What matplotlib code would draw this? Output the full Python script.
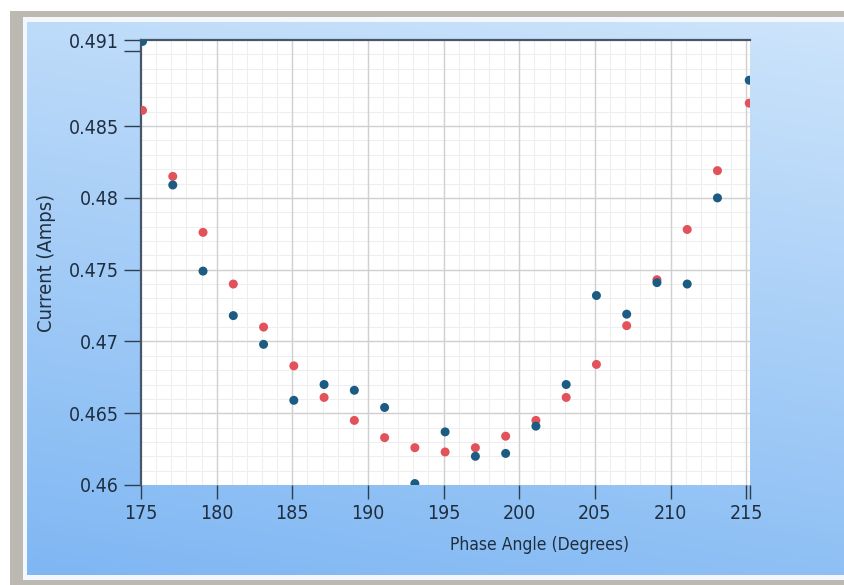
import numpy as np
import matplotlib
matplotlib.use("Agg")
from matplotlib import pyplot as plt
from matplotlib.patches import Rectangle
from matplotlib.colors import LinearSegmentedColormap

# phase angle (degrees) for every sample
angle = [175.1, 177.1, 179.1, 181.1, 183.1, 185.1, 187.1, 189.1, 191.1, 193.1,
         195.1, 197.1, 199.1, 201.1, 203.1, 205.1, 207.1, 209.1, 211.1, 213.1, 215.2]

# current readings (Amps)
current_blue = [0.4909, 0.4809, 0.4749, 0.4718, 0.4698, 0.4659, 0.4670, 0.4666,
                0.4654, 0.4601, 0.4637, 0.4620, 0.4622, 0.4641, 0.4670, 0.4732,
                0.4719, 0.4741, 0.4740, 0.4800, 0.4882]
current_red = [0.4861, 0.4815, 0.4776, 0.4740, 0.4710, 0.4683, 0.4661, 0.4645,
               0.4633, 0.4626, 0.4623, 0.4626, 0.4634, 0.4645, 0.4661, 0.4684,
               0.4711, 0.4743, 0.4778, 0.4819, 0.4866]

x_ticks = [175, 180, 185, 190, 195, 200, 205, 210, 215]
y_ticks = [0.46, 0.465, 0.47, 0.475, 0.48, 0.485, 0.491]
y_tick_labels = ["0.46", "0.465", "0.47", "0.475", "0.48", "0.485", "0.491"]

W, H = 844, 585
fig = plt.figure(figsize=(W / 100, H / 100), dpi=100)
fig.patch.set_facecolor("white")

# window frame: gray border, white rim, blue gradient panel
fig.patches.append(Rectangle((10 / W, 0), 1, (H - 11) / H, transform=fig.transFigure,
                             facecolor="#bcb8b2", edgecolor="none", zorder=-5))
fig.patches.append(Rectangle((23 / W, 5 / H), 1, (H - 22) / H, transform=fig.transFigure,
                             facecolor="#f4f8fc", edgecolor="none", zorder=-4))
bg = fig.add_axes([27 / W, 10 / H, 1 - 27 / W, (H - 32) / H])
bg.set_zorder(-3)
grad_v = np.linspace(0, 1, 200)[:, None]
grad_h = np.linspace(0, 1, 300)[None, :]
grad = 0.8 * grad_v + 0.2 * (1 - grad_h)
cmap = LinearSegmentedColormap.from_list("panel", ["#cde4fb", "#7fb7f3"])
bg.imshow(grad, aspect="auto", cmap=cmap, extent=[0, 1, 0, 1], origin="upper")
bg.axis("off")

# plot area
left, right, top, bottom = 141, 750, 40, 485
ax = fig.add_axes([left / W, (H - bottom) / H, (right - left) / W, (bottom - top) / H])
ax.set_zorder(2)
ax.set_facecolor("white")

ax.scatter(angle, current_red, s=42, color="#e2525a", edgecolors="none", zorder=3)
ax.scatter(angle, current_blue, s=42, color="#1c5b82", edgecolors="none", zorder=4)

ax.set_xlim(175, 215.25)
ax.set_ylim(0.46, 0.491)

ax.set_xticks(x_ticks)
ax.set_xticklabels([str(t) for t in x_ticks])
ax.set_yticks(y_ticks)
ax.set_yticklabels(y_tick_labels)
ax.set_xticks([215.25], minor=True)
ax.set_yticks([0.4902], minor=True)

# grid lines
for v in np.arange(176, 215, 1):
    ax.axvline(v, color="#eeeeee", lw=0.8, zorder=1)
for v in np.arange(0.461, 0.491, 0.001):
    ax.axhline(v, color="#eeeeee", lw=0.8, zorder=1)
for v in x_ticks[1:]:
    ax.axvline(v, color="#d0d0d0", lw=1.0, zorder=2)
for v in y_ticks[1:-1]:
    ax.axhline(v, color="#d0d0d0", lw=1.0, zorder=2)

for s in ["right", "bottom"]:
    ax.spines[s].set_visible(False)
for s in ["left", "top"]:
    ax.spines[s].set_color("#46576a")
    ax.spines[s].set_linewidth(1.6)

font = dict(family="DejaVu Sans", stretch="condensed")
ax.tick_params(axis="both", which="both", direction="out", width=1.0,
               color="#2c3e50", labelcolor="#1f2f40", labelsize=14)
ax.tick_params(axis="x", which="both", length=10, pad=4)
ax.tick_params(axis="y", which="both", length=12, pad=4)
for lab in ax.get_xticklabels() + ax.get_yticklabels():
    lab.set_fontstretch("condensed")

ax.set_ylabel("Current (Amps)", fontsize=14.5, color="#1f2f40", **font)
ax.yaxis.set_label_coords(-0.14, 0.5)
ax.set_xlabel("Phase Angle (Degrees)", fontsize=12.5, color="#1f2f40", **font)
ax.xaxis.set_label_coords(0.655, -0.115)

fig.savefig("out.png", dpi=100)
